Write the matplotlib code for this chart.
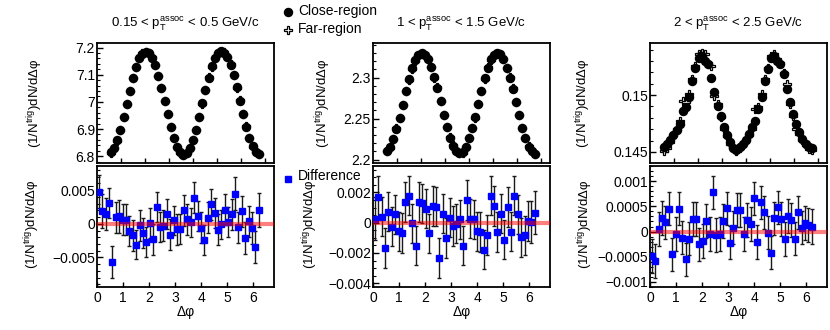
import matplotlib
matplotlib.use("Agg")
import matplotlib.pyplot as plt
import numpy as np
from matplotlib.ticker import FuncFormatter, MultipleLocator

plt.rcParams['font.family'] = ['Liberation Sans', 'DejaVu Sans']
plt.rcParams['mathtext.fontset'] = 'custom'
plt.rcParams['mathtext.rm'] = 'Liberation Sans'
plt.rcParams['mathtext.it'] = 'Liberation Sans:italic'

# 48 bins in delta phi; the upper panels use a shifted binning
nbins = 48
edges = np.linspace(0, 2 * np.pi, nbins + 1)
dphi = 0.5 * (edges[:-1] + edges[1:])
top_edges = np.linspace(0.52, 0.52 + 2 * np.pi, nbins + 1)
dphi_top = 0.5 * (top_edges[:-1] + top_edges[1:])

titles = ["0.15 < p$_{\\mathrm{T}}^{\\mathrm{assoc}}$ < 0.5 GeV/c",
          "1 < p$_{\\mathrm{T}}^{\\mathrm{assoc}}$ < 1.5 GeV/c",
          "2 < p$_{\\mathrm{T}}^{\\mathrm{assoc}}$ < 2.5 GeV/c"]

# --- 0.15 < pT < 0.5
close1 = [6.815, 6.830, 6.858, 6.897, 6.943, 6.992, 7.041, 7.088, 7.128, 7.160, 7.178, 7.185,
          7.181, 7.163, 7.135, 7.097, 7.052, 7.003, 6.954, 6.907, 6.866, 6.834, 6.814, 6.806,
          6.813, 6.832, 6.860, 6.898, 6.946, 6.995, 7.044, 7.089, 7.131, 7.161, 7.180, 7.186,
          7.182, 7.165, 7.137, 7.099, 7.054, 7.005, 6.956, 6.909, 6.868, 6.836, 6.816, 6.808]
far1 = [6.812, 6.829, 6.857, 6.898, 6.944, 6.993, 7.040, 7.087, 7.129, 7.161, 7.179, 7.184,
        7.182, 7.164, 7.136, 7.096, 7.053, 7.002, 6.955, 6.908, 6.867, 6.833, 6.813, 6.805,
        6.812, 6.831, 6.861, 6.897, 6.945, 6.994, 7.043, 7.090, 7.130, 7.160, 7.181, 7.185,
        7.183, 7.164, 7.138, 7.098, 7.053, 7.006, 6.955, 6.910, 6.867, 6.835, 6.817, 6.807]
diff1 = [0.0048, 0.0019, 0.0015, 0.0031, -0.0057, 0.0010, 0.0011, 0.0006, 0.0006, -0.0011,
         -0.0017, -0.0031, -0.0002, -0.0014, -0.0027, 0.0001, -0.0023, 0.0025, -0.0005, -0.0003,
         0.0015, -0.0016, 0.0005, -0.0008, -0.0008, 0.0020, 0.0007, 0.0002, 0.0039, 0.0012,
         -0.0006, -0.0024, 0.0009, 0.0029, 0.0016, -0.0009, -0.0001, 0.0021, 0.0003, 0.0014,
         0.0045, -0.0005, 0.0019, -0.0021, 0.0004, -0.0006, -0.0034, 0.0021]
err1 = [0.0024, 0.0025, 0.0024, 0.0023, 0.0024, 0.0023, 0.0024, 0.0023, 0.0023, 0.0022,
        0.0023, 0.0022, 0.0023, 0.0022, 0.0023, 0.0022, 0.0023, 0.0023, 0.0022, 0.0023,
        0.0022, 0.0023, 0.0022, 0.0023, 0.0022, 0.0023, 0.0023, 0.0022, 0.0023, 0.0022,
        0.0023, 0.0022, 0.0023, 0.0023, 0.0022, 0.0023, 0.0022, 0.0023, 0.0022, 0.0023,
        0.0024, 0.0023, 0.0023, 0.0024, 0.0023, 0.0024, 0.0024, 0.0025]

# --- 1 < pT < 1.5
close2 = [2.210, 2.215, 2.225, 2.237, 2.251, 2.267, 2.283, 2.298, 2.311, 2.321, 2.327, 2.330,
          2.328, 2.323, 2.313, 2.301, 2.287, 2.271, 2.255, 2.240, 2.227, 2.217, 2.211, 2.208,
          2.209, 2.216, 2.226, 2.238, 2.252, 2.268, 2.284, 2.299, 2.312, 2.322, 2.328, 2.330,
          2.329, 2.322, 2.312, 2.300, 2.286, 2.270, 2.254, 2.239, 2.226, 2.216, 2.210, 2.207]
far2 = [2.210, 2.214, 2.225, 2.238, 2.251, 2.266, 2.283, 2.297, 2.310, 2.320, 2.327, 2.329,
        2.328, 2.322, 2.313, 2.300, 2.288, 2.272, 2.254, 2.240, 2.228, 2.218, 2.211, 2.208,
        2.208, 2.216, 2.227, 2.238, 2.251, 2.268, 2.283, 2.298, 2.313, 2.321, 2.328, 2.329,
        2.329, 2.323, 2.311, 2.301, 2.287, 2.270, 2.255, 2.238, 2.226, 2.217, 2.210, 2.207]
diff2 = [0.00027, 0.00167, 0.00040, -0.00167, 0.00073, -0.00027, 0.00056, -0.00056, -0.00067, 0.00138,
         0.00178, -0.00004, -0.00151, 0.00138, 0.00129, 0.00093, -0.00071, 0.00111, 0.00107, -0.00233,
         0.00060, -0.00100, 0.00033, -0.00022, -0.00007, 0.00022, -0.00151, 0.00151, 0.00027, 0.00022,
         -0.00056, -0.00062, -0.00178, -0.00082, 0.00178, 0.00111, -0.00062, 0.00060, -0.00111, 0.00104,
         -0.00060, 0.00178, 0.00056, -0.00096, -0.00084, 0.00011, 0.00004, 0.00067]
err2 = [0.0014, 0.0014, 0.0013, 0.0013, 0.0013, 0.0013, 0.0013, 0.0013, 0.0013, 0.0013,
        0.0013, 0.0013, 0.0013, 0.0013, 0.0013, 0.0013, 0.0013, 0.0013, 0.0013, 0.0013,
        0.0013, 0.0013, 0.0013, 0.0013, 0.0013, 0.0013, 0.0013, 0.0013, 0.0013, 0.0013,
        0.0013, 0.0013, 0.0013, 0.0013, 0.0013, 0.0013, 0.0013, 0.0013, 0.0013, 0.0013,
        0.0013, 0.0013, 0.0013, 0.0013, 0.0013, 0.0013, 0.0014, 0.0014]

# --- 2 < pT < 2.5
close3 = [0.14544, 0.14573, 0.14608, 0.14652, 0.14695, 0.14747, 0.14864, 0.14893, 0.14980, 0.15125,
          0.15241, 0.15328, 0.15343, 0.15299, 0.15276, 0.15154, 0.15023, 0.14907, 0.14820, 0.14718,
          0.14646, 0.14588, 0.14530, 0.14515, 0.14544, 0.14567, 0.14602, 0.14660, 0.14718, 0.14776,
          0.14878, 0.14980, 0.15125, 0.15227, 0.15328, 0.15343, 0.15299, 0.15270, 0.15183, 0.15052,
          0.14936, 0.14834, 0.14747, 0.14675, 0.14617, 0.14573, 0.14544, 0.14530]
far3 = [0.14509, 0.14538, 0.14588, 0.14646, 0.14704, 0.14771, 0.14951, 0.14936, 0.15009, 0.15139,
        0.15256, 0.15357, 0.15372, 0.15357, 0.15270, 0.15256, 0.14994, 0.14922, 0.14805, 0.14704,
        0.14637, 0.14573, 0.14530, 0.14509, 0.14530, 0.14573, 0.14608, 0.14646, 0.14704, 0.14878,
        0.14898, 0.15009, 0.15139, 0.15241, 0.15343, 0.15357, 0.15314, 0.15285, 0.15197, 0.15096,
        0.14922, 0.14820, 0.14704, 0.14660, 0.14602, 0.14559, 0.14521, 0.14515]
diff3 = [-0.00049, -0.00059, 0.00005, 0.00027, 0.00018, 0.00045, -0.00045, -0.00005, 0.00045, -0.00012,
         -0.00055, -0.00014, 0.00025, 0.00025, -0.00025, -0.00019, 0.00021, -0.00005, 0.00078, -0.00007,
         -0.00005, 0.00021, 0.00046, -0.00022, 0.00008, 0.00043, 0.00043, -0.00005, 0.00023, 0.00015,
         0.00066, -0.00021, 0.00058, 0.00038, -0.00002, -0.00042, 0.00026, 0.00048, 0.00025, -0.00015,
         0.00031, 0.00023, -0.00014, 0.00038, 0.00008, 0.00017, 0.00013, 0.00010]
err3 = [0.00034, 0.00034, 0.00033, 0.00033, 0.00033, 0.00033, 0.00033, 0.00033, 0.00033, 0.00033,
        0.00033, 0.00033, 0.00033, 0.00033, 0.00033, 0.00033, 0.00033, 0.00033, 0.00033, 0.00033,
        0.00033, 0.00033, 0.00033, 0.00033, 0.00033, 0.00033, 0.00033, 0.00033, 0.00033, 0.00033,
        0.00033, 0.00033, 0.00033, 0.00033, 0.00033, 0.00033, 0.00033, 0.00033, 0.00033, 0.00033,
        0.00033, 0.00033, 0.00033, 0.00033, 0.00033, 0.00033, 0.00034, 0.00034]

closes = [close1, close2, close3]
fars = [far1, far2, far3]
diffs = [diff1, diff2, diff3]
errs = [err1, err2, err3]

top_ylims = [(6.775, 7.217), (2.196, 2.342), (0.14402, 0.15458)]
top_yticks = [[6.8, 6.9, 7.0, 7.1, 7.2], [2.2, 2.25, 2.3], [0.145, 0.15]]
top_minor = [0.02, 0.01, 0.001]
bot_ylims = [(-0.0094, 0.0086), (-0.00425, 0.00375), (-0.0011, 0.0013)]
bot_yticks = [[-0.005, 0, 0.005], [-0.004, -0.002, 0, 0.002], [-0.001, -0.0005, 0, 0.0005, 0.001]]
bot_minor = [0.001, 0.0005, 0.0001]


def fmt(v, pos):
    v = round(v, 8)
    if abs(v) < 1e-12:
        v = 0.0
    return ('%g' % v).replace('-', '\u2212')


W, H = 830.0, 330.0
fig = plt.figure(figsize=(8.3, 3.3), dpi=100)

lefts = [97, 373, 650]
aw = 177
ylab = "(1/N$^{\\mathrm{trig}}$)dN/d\u0394\u03c6"
ylab_x_top = [35, 323, 583]
ylab_x_bot = [32, 310, 585]
fs = 10

for i in range(3):
    L = lefts[i]
    axt = fig.add_axes([L / W, 1 - 163 / H, aw / W, 120 / H])
    axb = fig.add_axes([L / W, 1 - 287 / H, aw / W, 121 / H])

    axt.plot(dphi_top, fars[i], 'P', ms=6.2, mfc='white', mec='black', mew=0.9, zorder=2)
    axt.plot(dphi_top, closes[i], 'o', ms=5.8, color='black', zorder=3)
    axt.set_xlim(0, 7.37)
    axt.set_ylim(*top_ylims[i])
    axt.set_xticks([1, 2, 3, 4, 5, 6, 7])
    axt.set_xticklabels([])
    axt.set_yticks(top_yticks[i])
    axt.yaxis.set_minor_locator(MultipleLocator(top_minor[i]))
    axt.yaxis.set_major_formatter(FuncFormatter(fmt))
    axt.set_title(titles[i], fontsize=9.5, pad=11)

    axb.errorbar(dphi, diffs[i], yerr=errs[i], fmt='s', ms=5, mfc='#0000ff', mec='#0000ff',
                 ecolor='#1a1a1a', elinewidth=1, capsize=1.5, capthick=1, zorder=3)
    axb.axhline(0, color='red', alpha=0.5, lw=3, zorder=5)
    axb.set_xlim(0, 6.8)
    axb.set_ylim(*bot_ylims[i])
    axb.set_xticks([0, 1, 2, 3, 4, 5, 6])
    axb.set_yticks(bot_yticks[i])
    axb.yaxis.set_minor_locator(MultipleLocator(bot_minor[i]))
    axb.yaxis.set_major_formatter(FuncFormatter(fmt))

    for ax in (axt, axb):
        for s in ax.spines.values():
            s.set_linewidth(1.3)
        ax.tick_params(axis='both', which='both', direction='in', labelsize=fs,
                       top=False, right=False)
        ax.tick_params(axis='y', which='major', length=4, width=1, pad=1.5)
        ax.tick_params(axis='y', which='minor', length=2, width=0.8)
        ax.tick_params(axis='x', which='major', length=3.5, width=1, pad=3)

    fig.text(ylab_x_top[i] / W, 1 - 103 / H, ylab, rotation=90, ha='center', va='center', fontsize=9.5)
    fig.text(ylab_x_bot[i] / W, 1 - 224 / H, ylab, rotation=90, ha='center', va='center', fontsize=9.5)
    fig.text((L + aw / 2) / W, 1 - 312 / H, "\u0394\u03c6", ha='center', va='center', fontsize=fs)

# legend drawn on an overlay in figure pixel coordinates
ov = fig.add_axes([0, 0, 1, 1], facecolor='none')
ov.set_xlim(0, W)
ov.set_ylim(H, 0)
ov.axis('off')
ov.plot([288], [11.5], 'o', ms=5.8, color='black')
ov.text(298, 11.5, "Close-region", fontsize=fs, va='center', ha='left')
ov.plot([288], [29.5], 'P', ms=6.2, mfc='white', mec='black', mew=0.9)
ov.text(298, 29.5, "Far-region", fontsize=fs, va='center', ha='left')
ov.plot([288], [179], 's', ms=5, color='#0000ff')
ov.text(298, 175.5, "Difference", fontsize=fs, va='center', ha='left')

fig.savefig("out.png", dpi=100)
